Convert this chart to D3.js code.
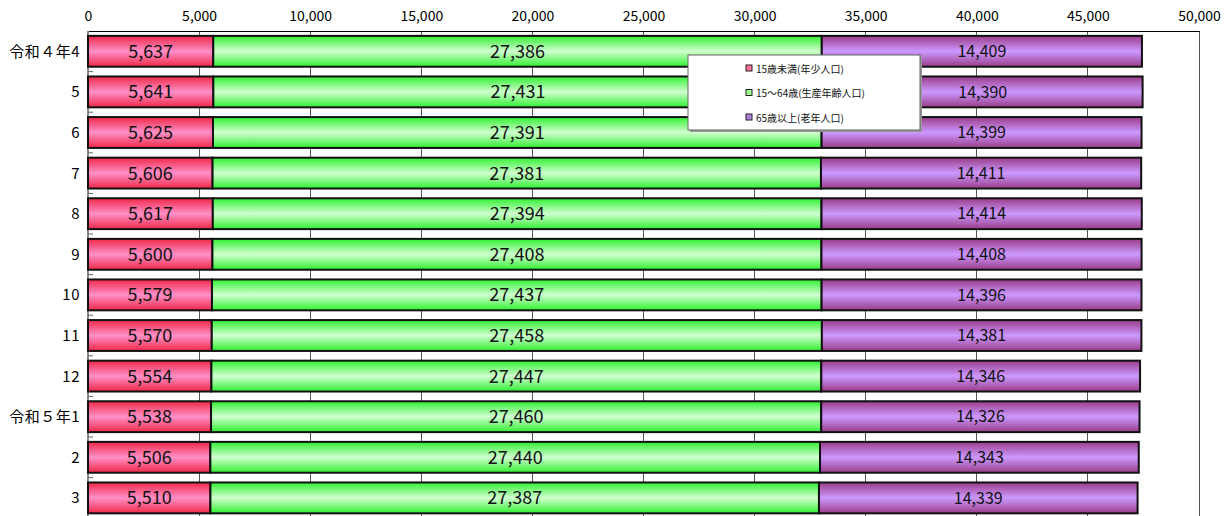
<!DOCTYPE html>
<html><head><meta charset="utf-8">
<script src="https://cdn.jsdelivr.net/npm/d3@7"></script>
<style>body{margin:0;background:#fff}svg{display:block}</style>
</head><body>
<svg id="c" width="1232" height="516"></svg>
<script>
const categories = ["令和４年4","5","6","7","8","9","10","11","12","令和５年1","2","3"];
const young = [5637,5641,5625,5606,5617,5600,5579,5570,5554,5538,5506,5510];
const working = [27386,27431,27391,27381,27394,27408,27437,27458,27447,27460,27440,27387];
const elderly = [14409,14390,14399,14411,14414,14408,14396,14381,14346,14326,14343,14339];
const seriesNames = ["15歳未満(年少人口)","15～64歳(生産年齢人口)","65歳以上(老年人口)"];
const xTicks = [0,5000,10000,15000,20000,25000,30000,35000,40000,45000,50000];

const svg = d3.select("#c");
const font = "'Noto Sans CJK JP', sans-serif";
const m = {left:88, right:33, top:31};
const x = d3.scaleLinear().domain([0,50000]).range([m.left, 1232-m.right]);
const y = d3.scaleBand().domain(categories).range([m.top, m.top+12*40.6]).paddingInner(0.24).paddingOuter(0.12);

const defs = svg.append("defs");
const grads = [
  {id:"gR", edge:"#f02848", mid:"#ff90c8", key:"#ff7099"},
  {id:"gG", edge:"#30f030", mid:"#d0ffd0", key:"#a0ff90"},
  {id:"gP", edge:"#9a3c88", mid:"#cc99ff", key:"#b080e0"}
];
grads.forEach(g=>{
  const lg = defs.append("linearGradient").attr("id",g.id).attr("x1",0).attr("x2",0).attr("y1",0).attr("y2",1);
  lg.append("stop").attr("offset","0%").attr("stop-color",g.edge);
  lg.append("stop").attr("offset","50%").attr("stop-color",g.mid);
  lg.append("stop").attr("offset","100%").attr("stop-color",g.edge);
});

// gridlines
svg.append("g").selectAll("line").data(xTicks.slice(1)).join("line")
  .attr("x1",d=>x(d)).attr("x2",d=>x(d)).attr("y1",m.top).attr("y2",516)
  .attr("stroke","#555").attr("stroke-width",1).attr("shape-rendering","crispEdges");

// top axis
const ax = svg.append("g").attr("transform",`translate(0,${m.top})`)
  .call(d3.axisTop(x).tickValues(xTicks).tickFormat(d3.format(",")).tickSize(0).tickPadding(10));
ax.select(".domain").attr("stroke","#000");
ax.selectAll("text").attr("font-family",font).attr("font-size",14).attr("fill","#000");

// left axis
svg.append("line").attr("x1",m.left).attr("x2",m.left).attr("y1",m.top).attr("y2",516)
  .attr("stroke","#888").attr("stroke-width",2);
// category ticks
const step = y.step();
svg.append("g").selectAll("line").data(categories).join("line")
  .attr("x1",m.left).attr("x2",m.left+5)
  .attr("y1",d=>y(d)+y.bandwidth()+(step-y.bandwidth())/2).attr("y2",d=>y(d)+y.bandwidth()+(step-y.bandwidth())/2)
  .attr("stroke","#666").attr("stroke-width",1);

// y labels
svg.append("g").selectAll("text").data(categories).join("text")
  .attr("x",m.left-8).attr("y",d=>y(d)+y.bandwidth()/2).attr("dy","0.36em")
  .attr("text-anchor","end").attr("font-family",font).attr("font-size",15).attr("fill","#000")
  .attr("letter-spacing","0.5px")
  .text(d=>d);

const rows = categories.map((c,i)=>({c, vals:[young[i],working[i],elderly[i]]}));
const g = svg.append("g");
rows.forEach(r=>{
  let acc=0;
  r.vals.forEach((v,k)=>{
    const x0 = x(acc), x1 = x(acc+v);
    g.append("rect").attr("x",x0).attr("y",y(r.c)).attr("width",x1-x0).attr("height",y.bandwidth())
      .attr("fill",`url(#${grads[k].id})`).attr("stroke","#111").attr("stroke-width",2);
    g.append("text").attr("x",(x0+x1)/2).attr("y",y(r.c)+y.bandwidth()/2).attr("dy","0.36em")
      .attr("text-anchor","middle").attr("font-family",font).attr("font-size",k==2?16:18).attr("fill","#111")
      .text(d3.format(",")(v));
    acc+=v;
  });
});

// legend
const lg = svg.append("g").attr("transform","translate(688,55)");
lg.append("rect").attr("x",2).attr("y",2).attr("width",232).attr("height",75).attr("fill","#999");
lg.append("rect").attr("width",232).attr("height",75).attr("fill","#fff").attr("stroke","#666");
seriesNames.forEach((s,i)=>{
  const yy = 14+i*24.5;
  lg.append("rect").attr("x",58).attr("y",yy-4).attr("width",6).attr("height",6)
    .attr("fill",grads[i].key).attr("stroke","#222");
  lg.append("text").attr("x",68).attr("y",yy).attr("dy","0.35em").attr("font-family",font)
    .attr("font-size",10).attr("fill","#111").text(s);
});
</script>
</body></html>
